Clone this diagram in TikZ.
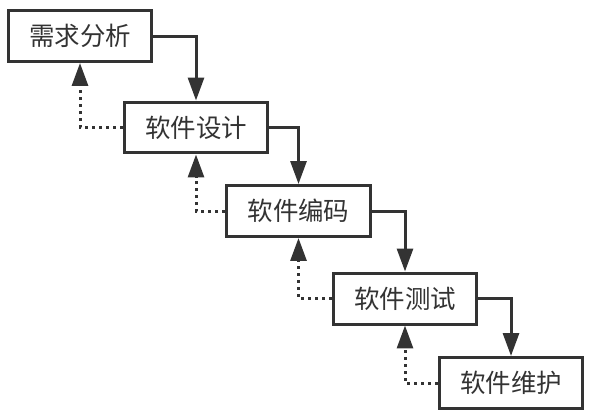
\documentclass[tikz,border=0pt]{standalone}
\usepackage{fontspec}
\newfontfamily\cjkfont{Noto Sans CJK SC}
\usepackage{tikz}
\usetikzlibrary{arrows.meta,positioning}
\definecolor{linegray}{RGB}{51,51,51}
\tikzset{
  stage/.style={draw=linegray, line width=0.06cm, fill=white,
    minimum width=2.88cm, minimum height=1.02cm, inner sep=0pt,
    font=\cjkfont\fontsize{14.5}{17}\selectfont, text=linegray},
  flow/.style={draw=linegray, line width=0.06cm,
    -{Triangle[length=0.46cm,width=0.32cm]}},
  back/.style={flow, dash pattern=on 0.06cm off 0.08cm},
}

\begin{document}
\begin{tikzpicture}[x=0.02cm, y=-0.02cm]
        \useasboundingbox (0,0) rectangle (594,419);

        % stages
        \node[stage] (req) at (80,36) {需求分析};
        \node[stage] (des) at (196,127.5) {软件设计};
        \node[stage] (cod) at (298.5,211) {软件编码};
        \node[stage] (tst) at (405,298.5) {软件测试};
        \node[stage] (mnt) at (511,383) {软件维护};

        % forward flow
        \draw[flow] (req.east) -| (des.north);
        \draw[flow] (des.east) -| (cod.north);
        \draw[flow] (cod.east) -| (tst.north);
        \draw[flow] (tst.east) -| (mnt.north);

        % feedback
        \draw[back] (des.west) -| (req.south);
        \draw[back] (cod.west) -| (des.south);
        \draw[back] (tst.west) -| (cod.south);
        \draw[back] (mnt.west) -| (tst.south);
    \end{tikzpicture}
\end{document}
